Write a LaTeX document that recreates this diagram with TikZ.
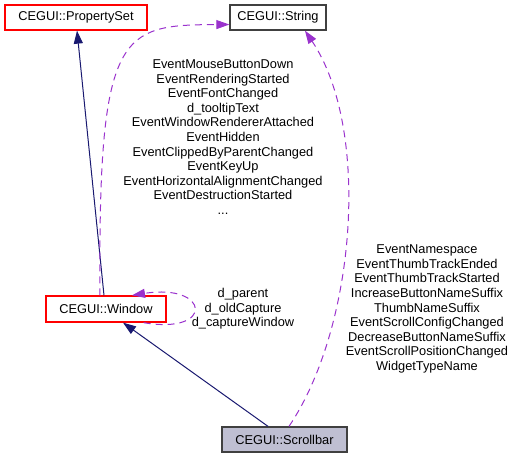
\documentclass[tikz,border=0pt]{standalone}
\usepackage{fontspec}
\setmainfont{Liberation Sans}
\usetikzlibrary{arrows.meta}
\definecolor{edgeblue}{RGB}{25,25,112}
\definecolor{edgepurple}{RGB}{154,50,205}
\definecolor{boxred}{RGB}{255,0,0}
\definecolor{boxdark}{RGB}{64,64,64}
\definecolor{sbfill}{RGB}{191,191,210}
\tikzset{
  cls/.style={draw, line width=1.3pt, fill=white, inner sep=0pt, font=\fontsize{12.8}{14.6}\selectfont},
  redcls/.style={cls, draw=boxred},
  darkcls/.style={cls, draw=boxdark},
  curcls/.style={cls, draw=boxdark, fill=sbfill},
  inherit/.style={draw=edgeblue, line width=1pt, -{Triangle[length=13pt,width=9pt]}},
  usage/.style={draw=edgepurple, line width=1pt, dash pattern=on 7pt off 5pt, -{Triangle[length=13pt,width=9pt]}},
  lbl/.style={align=center, inner sep=0pt, font=\fontsize{12.8}{14.6}\selectfont}
}
\begin{document}
\begin{tikzpicture}[x=1pt,y=-1pt]
\useasboundingbox (0,0) rectangle (516,459);
\node[redcls, minimum width=142pt, minimum height=25pt] (ps) at (76,17.5) {CEGUI::PropertySet};
\node[darkcls, minimum width=96pt, minimum height=25pt] (str) at (278,17.5) {CEGUI::String};
\node[redcls, minimum width=120pt, minimum height=26pt] (win) at (106,309) {CEGUI::Window};
\node[curcls, minimum width=125pt, minimum height=25pt] (sb) at (284.5,439.5) {CEGUI::Scrollbar};

\draw[inherit] ([xshift=-2pt]win.north) -- ([xshift=1pt]ps.south);
\draw[inherit] ([xshift=-16.5pt]sb.north) -- ([xshift=17pt]win.south);

\draw[usage] ([xshift=-6pt]win.north) .. controls (98,30) and (120,25) .. ([yshift=-7pt]str.west);
\draw[usage] ([xshift=4.5pt]sb.north) .. controls (356,327) and (371,129) .. ([xshift=27pt]str.south);
\draw[usage] ([xshift=-23pt]win.south east) .. controls (215,335) and (210,283) .. ([xshift=26pt]win.north);

\node[lbl] (l1) at (223,137) {EventMouseButtonDown\\EventRenderingStarted\\EventFontChanged\\d\_tooltipText\\EventWindowRendererAttached\\EventHidden\\EventClippedByParentChanged\\EventKeyUp\\EventHorizontalAlignmentChanged\\EventDestructionStarted\\...};
\node[lbl] (l2) at (427,309) {EventNamespace\\EventThumbTrackEnded\\EventThumbTrackStarted\\IncreaseButtonNameSuffix\\ThumbNameSuffix\\EventScrollConfigChanged\\DecreaseButtonNameSuffix\\EventScrollPositionChanged\\WidgetTypeName};
\node[lbl] (l3) at (243,309) {d\_parent\\d\_oldCapture\\d\_captureWindow};
\end{tikzpicture}
\end{document}
